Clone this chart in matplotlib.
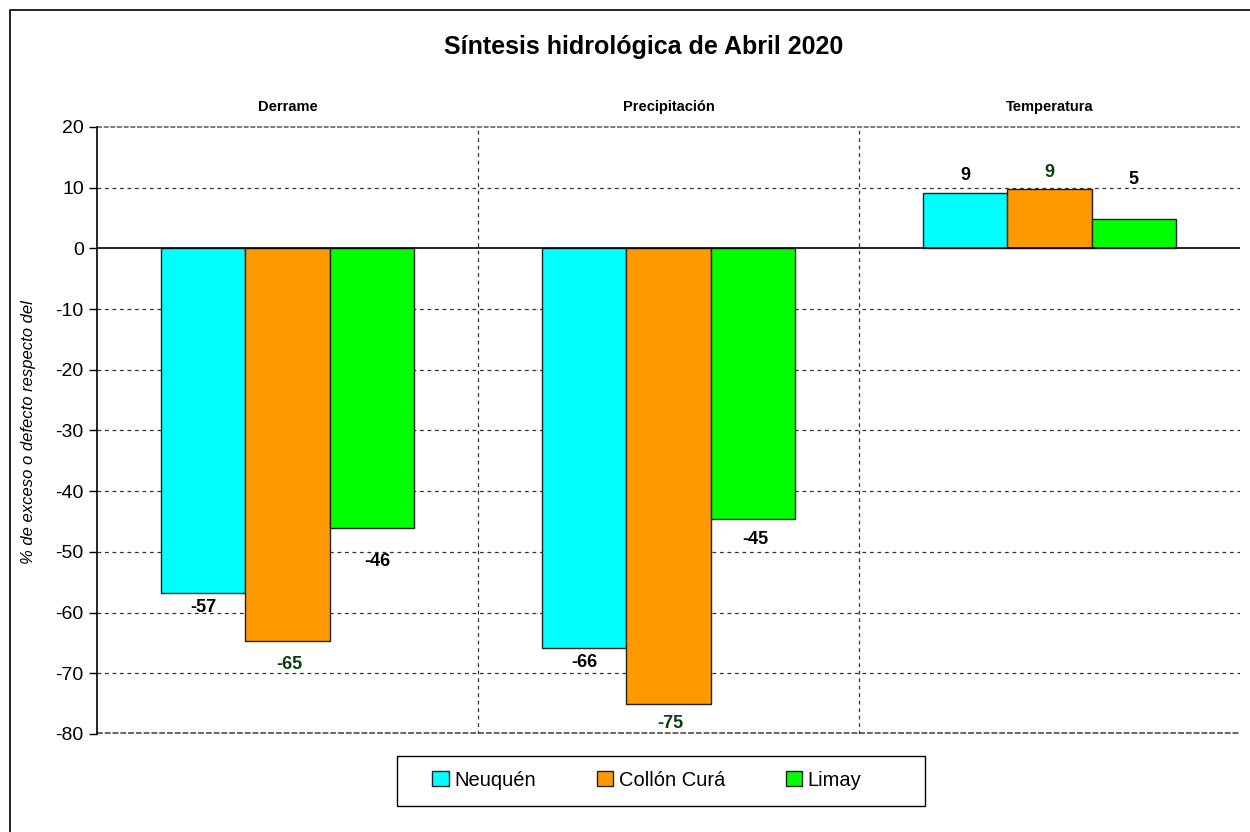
import numpy as np
import matplotlib.pyplot as plt
from matplotlib.patches import Rectangle

plt.rcParams['font.family'] = ['Liberation Sans', 'DejaVu Sans']
plt.rcParams['axes.unicode_minus'] = False

# data
groups = ['Derrame', 'Precipitación', 'Temperatura']
series = ['Neuquén', 'Collón Curá', 'Limay']
neuquen = [-56.7, -65.9, 9.2]
collon = [-64.7, -75.1, 9.7]
limay = [-46.1, -44.6, 4.9]
labels_neuquen = ['-57', '-66', '9']
labels_collon = ['-65', '-75', '9']
labels_limay = ['-46', '-45', '5']

colors = ['#00ffff', '#ff9900', '#00ff00']
label_colors = ['black', '#0a3f0a', 'black']
# label offsets in points (dx, dy) from the bar end, per series and group
label_offsets = [
    [(0, -11), (0, -10), (0, 12)],
    [(1, -17), (1, -14), (0, 12)],
    [(4, -24), (2, -15), (0, 28)],
]

fig = plt.figure(figsize=(12.5, 8.32), dpi=100)
ax = fig.add_axes([0.0776, 0.1178, 0.9144, 0.7296])

x = np.arange(len(groups))
w = 0.221
values = [neuquen, collon, limay]
texts = [labels_neuquen, labels_collon, labels_limay]
for i in range(3):
    xs = x + (i - 1) * w
    ax.bar(xs, values[i], width=w, color=colors[i], edgecolor='#222222',
           linewidth=1.0, label=series[i], zorder=3)
    for j in range(3):
        v = values[i][j]
        dx, dy = label_offsets[i][j]
        ax.annotate(texts[i][j], (xs[j], v), xytext=(dx, dy), textcoords='offset points',
                    ha='center', va='center', fontsize=13, fontweight='bold',
                    color=label_colors[i], zorder=4)

ax.set_xlim(-0.5, 2.5)
ax.set_ylim(-80, 20)
ax.set_yticks(np.arange(-80, 21, 10))
ax.set_xticks([])
ax.tick_params(axis='y', labelsize=14, length=6, direction='out', width=1)

for y in np.arange(-70, 20, 10):
    if y == 0:
        continue
    ax.axhline(y, color='#333333', linestyle=(0, (3, 3)), linewidth=0.9, zorder=1)
ax.axhline(20, color='#666666', linestyle=(0, (3, 1)), linewidth=1.2, zorder=1, clip_on=False)
ax.axhline(-79.85, color='#666666', linestyle=(0, (3, 1)), linewidth=1.4, zorder=1, clip_on=False)
for xv in [0.5, 1.5]:
    ax.axvline(xv, color='#333333', linestyle=(0, (3, 3)), linewidth=0.9, zorder=1)
ax.axhline(0, color='black', linewidth=1.2, zorder=4)

for s in ['top', 'right', 'bottom']:
    ax.spines[s].set_visible(False)
ax.spines['left'].set_linewidth(1.2)

for j, g in enumerate(groups):
    ax.text(x[j], 23.3, g, ha='center', va='center', fontsize=10.5, fontweight='bold')

fig.text(0.515, 0.943, 'Síntesis hidrológica de Abril 2020', ha='center', va='center',
         fontsize=18, fontweight='bold')
fig.text(0.023, 0.481, '% de exceso o defecto respecto del', rotation=90, ha='center',
         va='center', fontsize=12, style='italic')

# legend entries without frame, box drawn separately
fig.legend(loc='center', bbox_to_anchor=(0.5176, 0.0625), ncol=3, fontsize=14.5,
           frameon=False, handlelength=0.8, handleheight=0.8, handletextpad=0.3,
           columnspacing=3.0)
fig.patches.append(Rectangle((397 / 1250, 1 - 806 / 832), 528 / 1250, 50 / 832,
                             transform=fig.transFigure, fill=False,
                             edgecolor='black', linewidth=1.0))

fig.patches.append(Rectangle((10 / 1250, -0.01), 1.0, 1 - 10 / 832 + 0.01,
                             transform=fig.transFigure, fill=False,
                             edgecolor='black', linewidth=1.2))

fig.savefig('out.png', dpi=100)
